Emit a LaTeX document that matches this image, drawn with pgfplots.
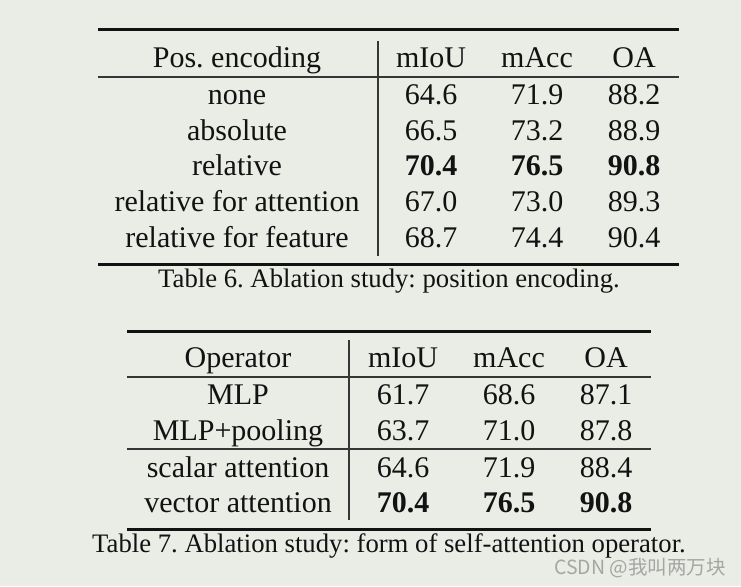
\documentclass[border=0pt]{standalone}
\usepackage{pgfplots}
\pgfplotsset{compat=1.18}
\usepackage{fontspec}
\setmainfont{Liberation Serif}
\newfontfamily\cjk{Noto Sans CJK SC}
\frenchspacing
\definecolor{bg}{RGB}{233,237,229}
\definecolor{ink}{RGB}{18,18,18}
\definecolor{wm}{RGB}{165,165,165}
\begin{document}
\frenchspacing
\begin{tikzpicture}
\begin{axis}[x=1pt,y=1pt,y dir=reverse,xmin=0,xmax=741,ymin=0,ymax=586,
  hide axis,clip=false,scale only axis,
  cell/.style={draw=none,mark=none,nodes near coords,point meta=explicit symbolic,
    every node near coord/.append style={anchor=base,inner sep=0pt,text depth=0pt,text=ink,
      font=\frenchspacing\fontsize{30}{36}\selectfont}},
  boldcell/.style={cell,every node near coord/.append style={font=\bfseries\fontsize{30}{36}\selectfont}},
  capcell/.style={cell,every node near coord/.append style={font=\frenchspacing\fontsize{26.7}{32}\selectfont}},
  thick rule/.style={ink,line width=3pt,mark=none},
  thin rule/.style={ink!85,line width=1.3pt,mark=none},
]
\addplot[fill=bg,draw=none,mark=none] coordinates {(0,0) (741,0) (741,586) (0,586)} -- cycle;

% ---------- Table 6 ----------
\addplot[thick rule] coordinates {(98,30) (679,30)};
\addplot[thin rule] coordinates {(98,77) (679,77)};
\addplot[thick rule] coordinates {(98,264) (679,264)};
\addplot[thin rule] coordinates {(378,41) (378,256)};
\addplot[cell] coordinates {
  (237,67) [Pos. encoding] (431,67) [mIoU] (537,67) [mAcc] (634,67) [OA]
  (237,104) [none] (237,140) [absolute] (237,175) [relative]
  (237,211) [relative for attention] (237,247) [relative for feature]
};
\addplot[cell] coordinates {
  (431,104) [64.6] (537,104) [71.9] (634,104) [88.2]
  (431,140) [66.5] (537,140) [73.2] (634,140) [88.9]
  (431,211) [67.0] (537,211) [73.0] (634,211) [89.3]
  (431,247) [68.7] (537,247) [74.4] (634,247) [90.4]
};
\addplot[boldcell] coordinates {(431,175) [70.4] (537,175) [76.5] (634,175) [90.8]};
\addplot[capcell] coordinates {(389,287) [Table 6. Ablation study: position encoding.]};

% ---------- Table 7 ----------
\addplot[thick rule] coordinates {(127,331) (651,331)};
\addplot[thin rule] coordinates {(127,377) (651,377)};
\addplot[thin rule] coordinates {(127,449) (651,449)};
\addplot[thick rule] coordinates {(127,529) (651,529)};
\addplot[thin rule] coordinates {(349,340) (349,520)};
\addplot[cell] coordinates {
  (238,367) [Operator] (403,367) [mIoU] (509,367) [mAcc] (606,367) [OA]
  (238,404) [MLP] (238,440) [MLP+pooling] (238,477) [scalar attention] (238,512) [vector attention]
};
\addplot[cell] coordinates {
  (403,404) [61.7] (509,404) [68.6] (606,404) [87.1]
  (403,440) [63.7] (509,440) [71.0] (606,440) [87.8]
  (403,477) [64.6] (509,477) [71.9] (606,477) [88.4]
};
\addplot[boldcell] coordinates {(403,512) [70.4] (509,512) [76.5] (606,512) [90.8]};
\addplot[capcell] coordinates {(389,552) [Table 7. Ablation study: form of self-attention operator.]};

% watermark
\addplot[draw=none,mark=none,nodes near coords,point meta=explicit symbolic,
  every node near coord/.append style={anchor=base,inner sep=0pt,text depth=0pt,text=wm,
    font=\cjk\fontsize{19.5}{22}\selectfont}]
  coordinates {(640,574) [CSDN @我叫两万块]};
\end{axis}
\end{tikzpicture}
\end{document}
